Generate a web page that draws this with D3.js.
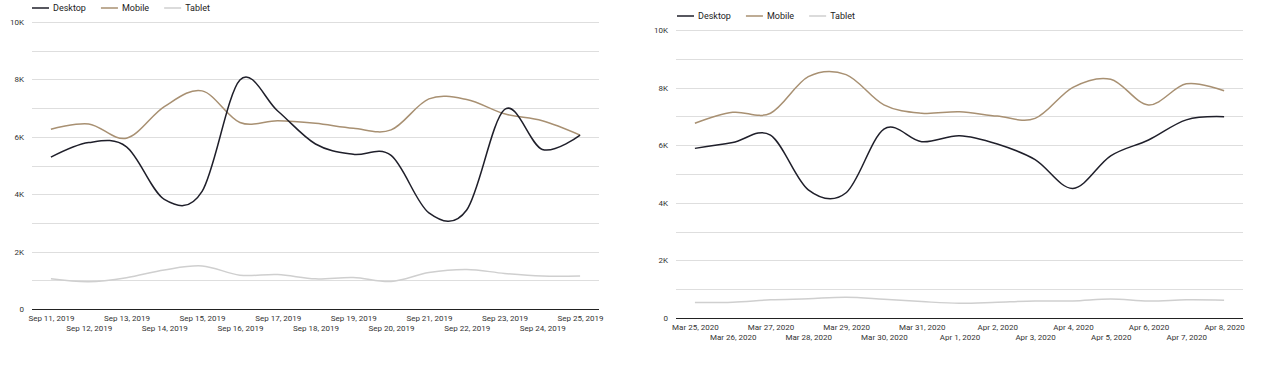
<!DOCTYPE html>
<html><head><meta charset="utf-8">
<script src="https://cdn.jsdelivr.net/npm/d3@7"></script>
<style>
body{margin:0;background:#fff;}
svg{display:block;font-family:Roboto,"Noto Sans",sans-serif;}
</style></head>
<body>
<svg id="c" width="1278" height="379"></svg>
<script>
const seriesNames = ["Desktop", "Mobile", "Tablet"];
const seriesColors = ["#1f1f2a", "#a89072", "#cfcfcf"];
const yTickValues = [0, 2000, 4000, 6000, 8000, 10000];
const yTickLabels = ["0", "2K", "4K", "6K", "8K", "10K"];
const gridValues = [1000, 2000, 3000, 4000, 5000, 6000, 7000, 8000, 9000, 10000];

const datesA = ["Sep 11, 2019","Sep 12, 2019","Sep 13, 2019","Sep 14, 2019","Sep 15, 2019","Sep 16, 2019","Sep 17, 2019","Sep 18, 2019","Sep 19, 2019","Sep 20, 2019","Sep 21, 2019","Sep 22, 2019","Sep 23, 2019","Sep 24, 2019","Sep 25, 2019"];
const desktopA = [5290, 5800, 5650, 3820, 4100, 7980, 6900, 5750, 5390, 5350, 3350, 3450, 6950, 5560, 6060];
const mobileA  = [6260, 6450, 5950, 7050, 7600, 6500, 6560, 6470, 6300, 6240, 7320, 7300, 6800, 6560, 6060];
const tabletA  = [1050, 950, 1090, 1360, 1500, 1180, 1200, 1050, 1100, 960, 1270, 1380, 1240, 1150, 1150];

const datesB = ["Mar 25, 2020","Mar 26, 2020","Mar 27, 2020","Mar 28, 2020","Mar 29, 2020","Mar 30, 2020","Mar 31, 2020","Apr 1, 2020","Apr 2, 2020","Apr 3, 2020","Apr 4, 2020","Apr 5, 2020","Apr 6, 2020","Apr 7, 2020","Apr 8, 2020"];
const desktopB = [5890, 6090, 6350, 4450, 4350, 6560, 6120, 6330, 6040, 5500, 4500, 5630, 6180, 6880, 6990];
const mobileB  = [6760, 7140, 7110, 8380, 8450, 7400, 7110, 7160, 7010, 6930, 8010, 8290, 7400, 8130, 7890];
const tabletB  = [540, 550, 630, 670, 720, 650, 570, 510, 550, 590, 590, 660, 590, 630, 620];

const svg = d3.select("#c");

function drawChart(cfg) {
  const g = svg.append("g");
  const x = d3.scalePoint().domain(cfg.dates).range([cfg.x0, cfg.x1]).padding(0.5);
  const y = d3.scaleLinear().domain([0, 10000]).range([cfg.yBottom, cfg.yTop]);

  g.append("g").selectAll("line").data(gridValues).join("line")
    .attr("x1", cfg.x0).attr("x2", cfg.x1)
    .attr("y1", d => Math.round(y(d)) + 0.5).attr("y2", d => Math.round(y(d)) + 0.5)
    .attr("stroke", "#dedede").attr("stroke-width", 1);

  const ya = d3.axisLeft(y).tickValues(yTickValues).tickFormat((d, i) => yTickLabels[i]).tickSize(0).tickPadding(8);
  const yg = g.append("g").attr("transform", `translate(${cfg.x0},0)`).call(ya);
  yg.select(".domain").remove();
  yg.selectAll("text").attr("font-size", 8).attr("fill", "#333").attr("font-family", "Roboto");

  const xa = d3.axisBottom(x).tickSize(0).tickPadding(0);
  const xg = g.append("g").attr("transform", `translate(0,${Math.round(cfg.yBottom) + 0.5})`).call(xa);
  xg.select(".domain").attr("stroke", "#222").attr("stroke-width", 1.2).attr("d", `M${cfg.x0},0H${cfg.x1}`);
  xg.selectAll("text").attr("font-size", 8).attr("fill", "#333").attr("font-family", "Roboto")
    .attr("dy", null)
    .attr("y", (d, i) => i % 2 === 0 ? 11 : 21.5);

  const line = d3.line().x((d, i) => x(cfg.dates[i])).y(d => y(d)).curve(d3.curveCatmullRom.alpha(0));
  const series = [cfg.desktop, cfg.mobile, cfg.tablet];
  [2, 1, 0].forEach(k => {
    g.append("path").datum(series[k]).attr("d", line)
      .attr("fill", "none").attr("stroke", seriesColors[k]).attr("stroke-width", 1.5)
      .attr("stroke-linejoin", "round");
  });

  const lg = g.append("g").attr("transform", `translate(${cfg.legendX},${cfg.legendY})`);
  let cx = 0;
  seriesNames.forEach((name, k) => {
    const it = lg.append("g").attr("transform", `translate(${cx},0)`);
    it.append("line").attr("x1", 0).attr("x2", 17).attr("y1", 0).attr("y2", 0)
      .attr("stroke", seriesColors[k]).attr("stroke-width", 1.5);
    const t = it.append("text").attr("x", 21).attr("y", 0).attr("dy", "0.35em")
      .attr("font-size", 9).attr("fill", "#222").text(name);
    cx += 21 + t.node().getComputedTextLength() + 15;
  });
}

drawChart({dates: datesA, desktop: desktopA, mobile: mobileA, tablet: tabletA,
  x0: 32, x1: 599, yTop: 22, yBottom: 309, legendX: 32, legendY: 8});
drawChart({dates: datesB, desktop: desktopB, mobile: mobileB, tablet: tabletB,
  x0: 676, x1: 1243, yTop: 30, yBottom: 318, legendX: 677, legendY: 16});
</script>
</body></html>
